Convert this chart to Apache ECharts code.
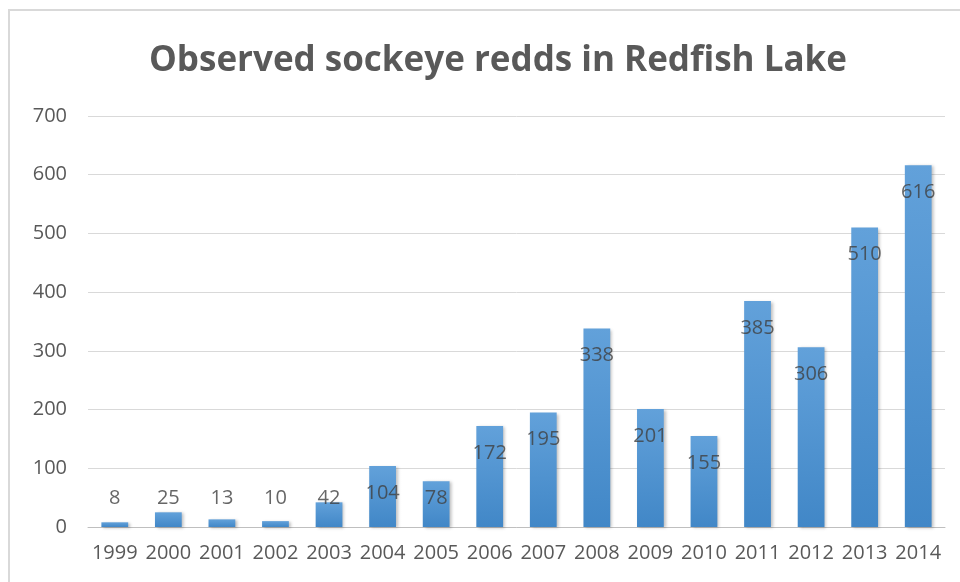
<!DOCTYPE html>
<html><head><meta charset="utf-8">
<script src="https://cdn.jsdelivr.net/npm/echarts@6/dist/echarts.min.js"></script>
<style>html,body{margin:0;padding:0;background:#fff}#c{width:960px;height:582px}</style>
</head><body><div id="c"></div>
<script>
var years = ['1999','2000','2001','2002','2003','2004','2005','2006','2007','2008','2009','2010','2011','2012','2013','2014'];
var redds = [8,25,13,10,42,104,78,172,195,338,201,155,385,306,510,616];
var yTicks = [0,100,200,300,400,500,600,700];
var titleText = 'Observed sockeye redds in Redfish Lake';

var chart = echarts.init(document.getElementById('c'));
var FONT = 'Open Sans';
// label anchor: a bit below each bar's top, but never lower than a floor near the axis
var labelPts = redds.map(function(v,i){ return {value:[years[i], Math.max(v-46, 49)], orig:v}; });
chart.setOption({
  animation:false,
  backgroundColor:'#fff',
  graphic:[{type:'rect', shape:{x:9,y:10,width:1000,height:1000}, style:{fill:'none', stroke:'#d9d9d9', lineWidth:2}, silent:true}],
  title:{text:titleText, left:493, textAlign:'center', top:39, textStyle:{fontFamily:FONT, fontWeight:'bold', fontSize:35, color:'#595959'}},
  grid:{left:88, right:15, top:116, bottom:55},
  xAxis:{type:'category', data:years,
    axisLine:{lineStyle:{color:'#bfbfbf', width:1}}, axisTick:{show:false},
    axisLabel:{fontFamily:FONT, fontSize:20, color:'#595959', margin:16, interval:0}},
  yAxis:{type:'value', min:yTicks[0], max:yTicks[yTicks.length-1], interval:100,
    axisLine:{show:false}, axisTick:{show:false},
    splitLine:{lineStyle:{color:'#d9d9d9'}},
    axisLabel:{fontFamily:FONT, fontSize:20, color:'#595959', margin:21}},
  series:[
    {type:'bar', data:redds, barCategoryGap:'50%',
      itemStyle:{color:new echarts.graphic.LinearGradient(0,0,0,1,[{offset:0,color:'#62a1da'},{offset:1,color:'#4187c7'}]),
        shadowColor:'rgba(0,0,0,0.25)', shadowBlur:3, shadowOffsetX:2, shadowOffsetY:1}},
    {type:'scatter', data:labelPts, symbolSize:1, itemStyle:{color:'rgba(0,0,0,0)'}, silent:true, z:5,
      label:{show:true, position:'inside', fontFamily:FONT, fontSize:20, color:'#404040',
        formatter:function(p){return String(p.data.orig);}}}
  ]
});
</script></body></html>
